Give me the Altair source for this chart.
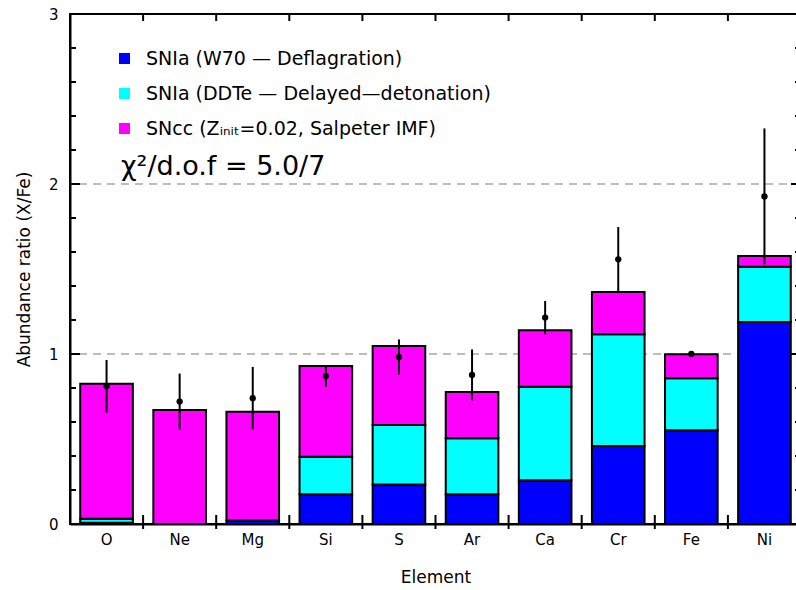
import altair as alt
import pandas as pd

# ---------------- data ----------------
elements = ["O", "Ne", "Mg", "Si", "S", "Ar", "Ca", "Cr", "Fe", "Ni"]
w70 = [0.008, 0.0, 0.02, 0.175, 0.233, 0.175, 0.257, 0.459, 0.551, 1.188]
ddte = [0.023, 0.0, 0.0, 0.221, 0.349, 0.329, 0.551, 0.657, 0.306, 0.325]
sncc = [0.794, 0.67, 0.64, 0.534, 0.465, 0.272, 0.331, 0.249, 0.141, 0.063]
observed = [0.81, 0.72, 0.74, 0.87, 0.983, 0.877, 1.214, 1.557, 1.0, 1.927]
obs_err = [0.155, 0.165, 0.184, 0.064, 0.103, 0.15, 0.098, 0.19, 0.005, 0.40]

components = [
    "SNIa (W70 — Deflagration)",
    "SNIa (DDTe — Delayed—detonation)",
    "SNcc (Z\u1d62\u2099\u1d62\u209c=0.02, Salpeter IMF)",
]
colors = ["#0000ff", "#00ffff", "#ff00ff"]
grid_values = [1, 2]
minor_ticks = [0.2, 0.4, 0.6, 0.8, 1.2, 1.4, 1.6, 1.8, 2.2, 2.4, 2.6, 2.8]
major_ticks = [1, 2]
chi_text = "χ²/d.o.f = 5.0/7"

# ---------------- tables ----------------
rows = []
for i, el in enumerate(elements):
    for k, series in enumerate([w70, ddte, sncc]):
        rows.append({"element": el, "component": components[k], "value": series[i], "order": k})
bars_df = pd.DataFrame(rows)

obs_df = pd.DataFrame({"element": elements, "obs": observed, "err": obs_err})
obs_df["lo"] = obs_df["obs"] - obs_df["err"]
obs_df["hi"] = obs_df["obs"] + obs_df["err"]

sep_df = pd.DataFrame({"element": elements[:-1]})
grid_df = pd.DataFrame({"g": grid_values})
minor_df = pd.DataFrame({"t": minor_ticks})
major_df = pd.DataFrame({"t": major_ticks})

W, H = 731, 510
step = W / len(elements)
FONT = "DejaVu Sans"
YTITLE = "Abundance ratio (X/Fe)"
XTITLE = "Element"

xscale = alt.Scale(domain=elements, paddingInner=0.28, paddingOuter=0.14)
yscale = alt.Scale(domain=[0, 3], nice=False, zero=True)

xaxis = alt.Axis(ticks=False, labelPadding=8, labelFontSize=15, labelFont=FONT,
                 labelColor="black", labelAngle=0, titleFontSize=17, titleFont=FONT,
                 titleFontWeight="normal", titleColor="black", titlePadding=22,
                 domainColor="black", domainWidth=2, grid=False)
yaxis = alt.Axis(values=[0, 1, 2, 3], ticks=False, labelPadding=12, labelFontSize=15,
                 labelFont=FONT, labelColor="black", titleFontSize=17, titleFont=FONT,
                 titleFontWeight="normal", titleColor="black", titlePadding=15,
                 domainColor="black", domainWidth=2, grid=False, format="d")


def X():
    return alt.X("element:N", scale=xscale, axis=xaxis, title=XTITLE, sort=None)


def Y(field):
    return alt.Y(field, scale=yscale, axis=yaxis, title=YTITLE)


grid = alt.Chart(grid_df).mark_rule(color="#a8a8a8", strokeWidth=1.5, strokeDash=[8, 6]).encode(
    y=Y("g:Q")
)

bars = alt.Chart(bars_df).mark_bar(stroke="black", strokeWidth=2, opacity=1).encode(
    x=X(),
    y=alt.Y("value:Q", stack="zero", scale=yscale, axis=yaxis, title=YTITLE),
    color=alt.Color(
        "component:N",
        scale=alt.Scale(domain=components, range=colors),
        legend=alt.Legend(
            orient="none", legendX=45, legendY=35, title=None, symbolType="square",
            symbolSize=121, symbolStrokeWidth=0, symbolOpacity=1, labelFont=FONT,
            labelFontSize=19, labelColor="black", labelOffset=12, rowPadding=15,
            padding=0, labelLimit=700,
        ),
    ),
    order=alt.Order("order:Q", sort="ascending"),
)

errbars = alt.Chart(obs_df).mark_rule(color="black", strokeWidth=2).encode(
    x=X(), y=Y("lo:Q"), y2="hi:Q",
)

points = alt.Chart(obs_df).mark_point(filled=True, shape="circle", size=40, color="black", opacity=1).encode(
    x=X(), y=Y("obs:Q"),
)

sep_bottom = alt.Chart(sep_df).mark_rule(color="black", strokeWidth=2, xOffset=step / 2,
                                         yOffset=-9, y2Offset=5).encode(
    x=X(), y=alt.Y(datum=0, scale=yscale, axis=yaxis, title=YTITLE), y2=alt.Y2(datum=0)
)
sep_top = alt.Chart(sep_df).mark_rule(color="black", strokeWidth=2, xOffset=step / 2,
                                      y2Offset=7).encode(
    x=X(), y=alt.Y(datum=3, scale=yscale, axis=yaxis, title=YTITLE), y2=alt.Y2(datum=3)
)

minor_left = alt.Chart(minor_df).mark_rule(color="black", strokeWidth=2).encode(
    y=Y("t:Q"), x=alt.value(0), x2=alt.value(6)
)
major_left = alt.Chart(major_df).mark_rule(color="black", strokeWidth=2).encode(
    y=Y("t:Q"), x=alt.value(0), x2=alt.value(10)
)
minor_right = alt.Chart(minor_df).mark_rule(color="black", strokeWidth=2).encode(
    y=Y("t:Q"), x=alt.value(W - 6), x2=alt.value(W)
)
major_right = alt.Chart(major_df).mark_rule(color="black", strokeWidth=2).encode(
    y=Y("t:Q"), x=alt.value(W - 10), x2=alt.value(W)
)

chi = alt.Chart(pd.DataFrame({"t": [chi_text]})).mark_text(
    align="left", baseline="alphabetic", fontSize=27, font=FONT, color="black"
).encode(text="t:N", x=alt.value(51), y=alt.value(161))

chart = alt.layer(
    grid, bars, errbars, points, sep_bottom, sep_top,
    minor_left, major_left, minor_right, major_right, chi
).properties(
    width=W, height=H,
    background="white",
    autosize=alt.AutoSizeParams(type="none"),
    padding={"left": 70, "top": 14, "right": -5, "bottom": 66},
).configure_view(
    stroke="black", strokeWidth=2
)

chart.save("out.html", embed_options={"renderer": "svg", "actions": False})
